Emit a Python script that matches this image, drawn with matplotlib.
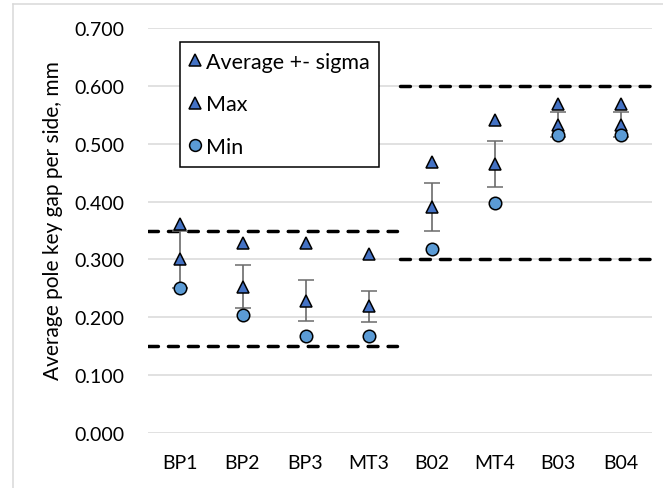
import matplotlib
matplotlib.use('Agg')
import matplotlib.pyplot as plt
from matplotlib.lines import Line2D

plt.rcParams['font.family'] = ['Lato', 'DejaVu Sans']

# pole key gap per side, mm
cats = ['BP1', 'BP2', 'BP3', 'MT3', 'B02', 'MT4', 'B03', 'B04']
avg = [0.300, 0.253, 0.229, 0.219, 0.391, 0.465, 0.533, 0.533]
sigma = [0.050, 0.037, 0.036, 0.027, 0.041, 0.040, 0.022, 0.022]
gap_max = [0.362, 0.328, 0.328, 0.309, 0.468, 0.541, 0.569, 0.569]
gap_min = [0.251, 0.204, 0.168, 0.168, 0.318, 0.398, 0.515, 0.515]

# tolerance bands (first four parts / last four parts)
band_low = [0.150, 0.350]
band_high = [0.300, 0.600]
yticks = [0.0, 0.1, 0.2, 0.3, 0.4, 0.5, 0.6, 0.7]

tri_color = '#4472C4'
dot_color = '#5B9BD5'
grid_color = '#D9D9D9'

fig = plt.figure(figsize=(6.63, 4.89), dpi=100)
ax = fig.add_axes([148/663, 1 - 434/489, 504/663, 405/489])

x = list(range(len(cats)))

ax.errorbar(x, avg, yerr=sigma, fmt='^', color=tri_color, markersize=9,
            markeredgecolor='black', markeredgewidth=1.1,
            ecolor='#6b6b6b', elinewidth=1.2, capsize=6, capthick=1.2, zorder=3)
ax.plot(x, gap_max, '^', color=tri_color, markersize=9,
        markeredgecolor='black', markeredgewidth=1.1, zorder=4)
ax.plot(x, gap_min, 'o', color=dot_color, markersize=9,
        markeredgecolor='black', markeredgewidth=1.1, zorder=5)

n = len(cats)
half = n // 2
for lvl in band_low:
    ln, = ax.plot([-0.5, half - 0.55], [lvl, lvl], color='black', lw=2.5, zorder=2)
    ln.set_dashes((2.85, 2.9))
    ln.set_dash_capstyle('round')
for lvl in band_high:
    ln, = ax.plot([half - 0.5, n - 0.5], [lvl, lvl], color='black', lw=2.5, zorder=2)
    ln.set_dashes((2.85, 2.9))
    ln.set_dash_capstyle('round')

ax.set_xlim(-0.5, n - 0.5)
ax.set_ylim(0, 0.7)
ax.set_yticks(yticks)
ax.set_yticklabels(['%.3f' % v for v in yticks])
ax.set_xticks(x)
ax.set_xticklabels(cats)
ax.tick_params(axis='both', length=0, labelsize=14, colors='black')
ax.tick_params(axis='y', pad=17)
ax.tick_params(axis='x', pad=15)
ax.grid(axis='y', color=grid_color, lw=1.1)
ax.set_axisbelow(True)
for s in ax.spines.values():
    s.set_visible(False)

fig.text(53/663, 1 - 221/489, 'Average pole key gap per side, mm',
         rotation=90, ha='center', va='center', fontsize=15)

handles = [
    Line2D([], [], ls='none', marker='^', color=tri_color, markersize=8.5,
           markeredgecolor='black', markeredgewidth=1.1),
    Line2D([], [], ls='none', marker='^', color=tri_color, markersize=8.5,
           markeredgecolor='black', markeredgewidth=1.1),
    Line2D([], [], ls='none', marker='o', color=dot_color, markersize=8.5,
           markeredgecolor='black', markeredgewidth=1.1),
]
leg = fig.legend(handles, ['Average +- sigma', 'Max', 'Min'],
                 loc='upper left', bbox_to_anchor=(180/663, 1 - 43/489),
                 fontsize=15.5, frameon=True, fancybox=False, framealpha=1,
                 edgecolor='black', handlelength=0.5, handletextpad=0.25,
                 labelspacing=1.05, borderpad=0.45, borderaxespad=0)
leg.get_frame().set_linewidth(1.1)

# outer chart frame
fig.add_artist(Line2D([13/663, 13/663], [0, 1 - 5/489], color=grid_color, lw=1.1))
fig.add_artist(Line2D([13/663, 1], [1 - 5/489, 1 - 5/489], color=grid_color, lw=1.1))

fig.savefig('out.png', dpi=100)
